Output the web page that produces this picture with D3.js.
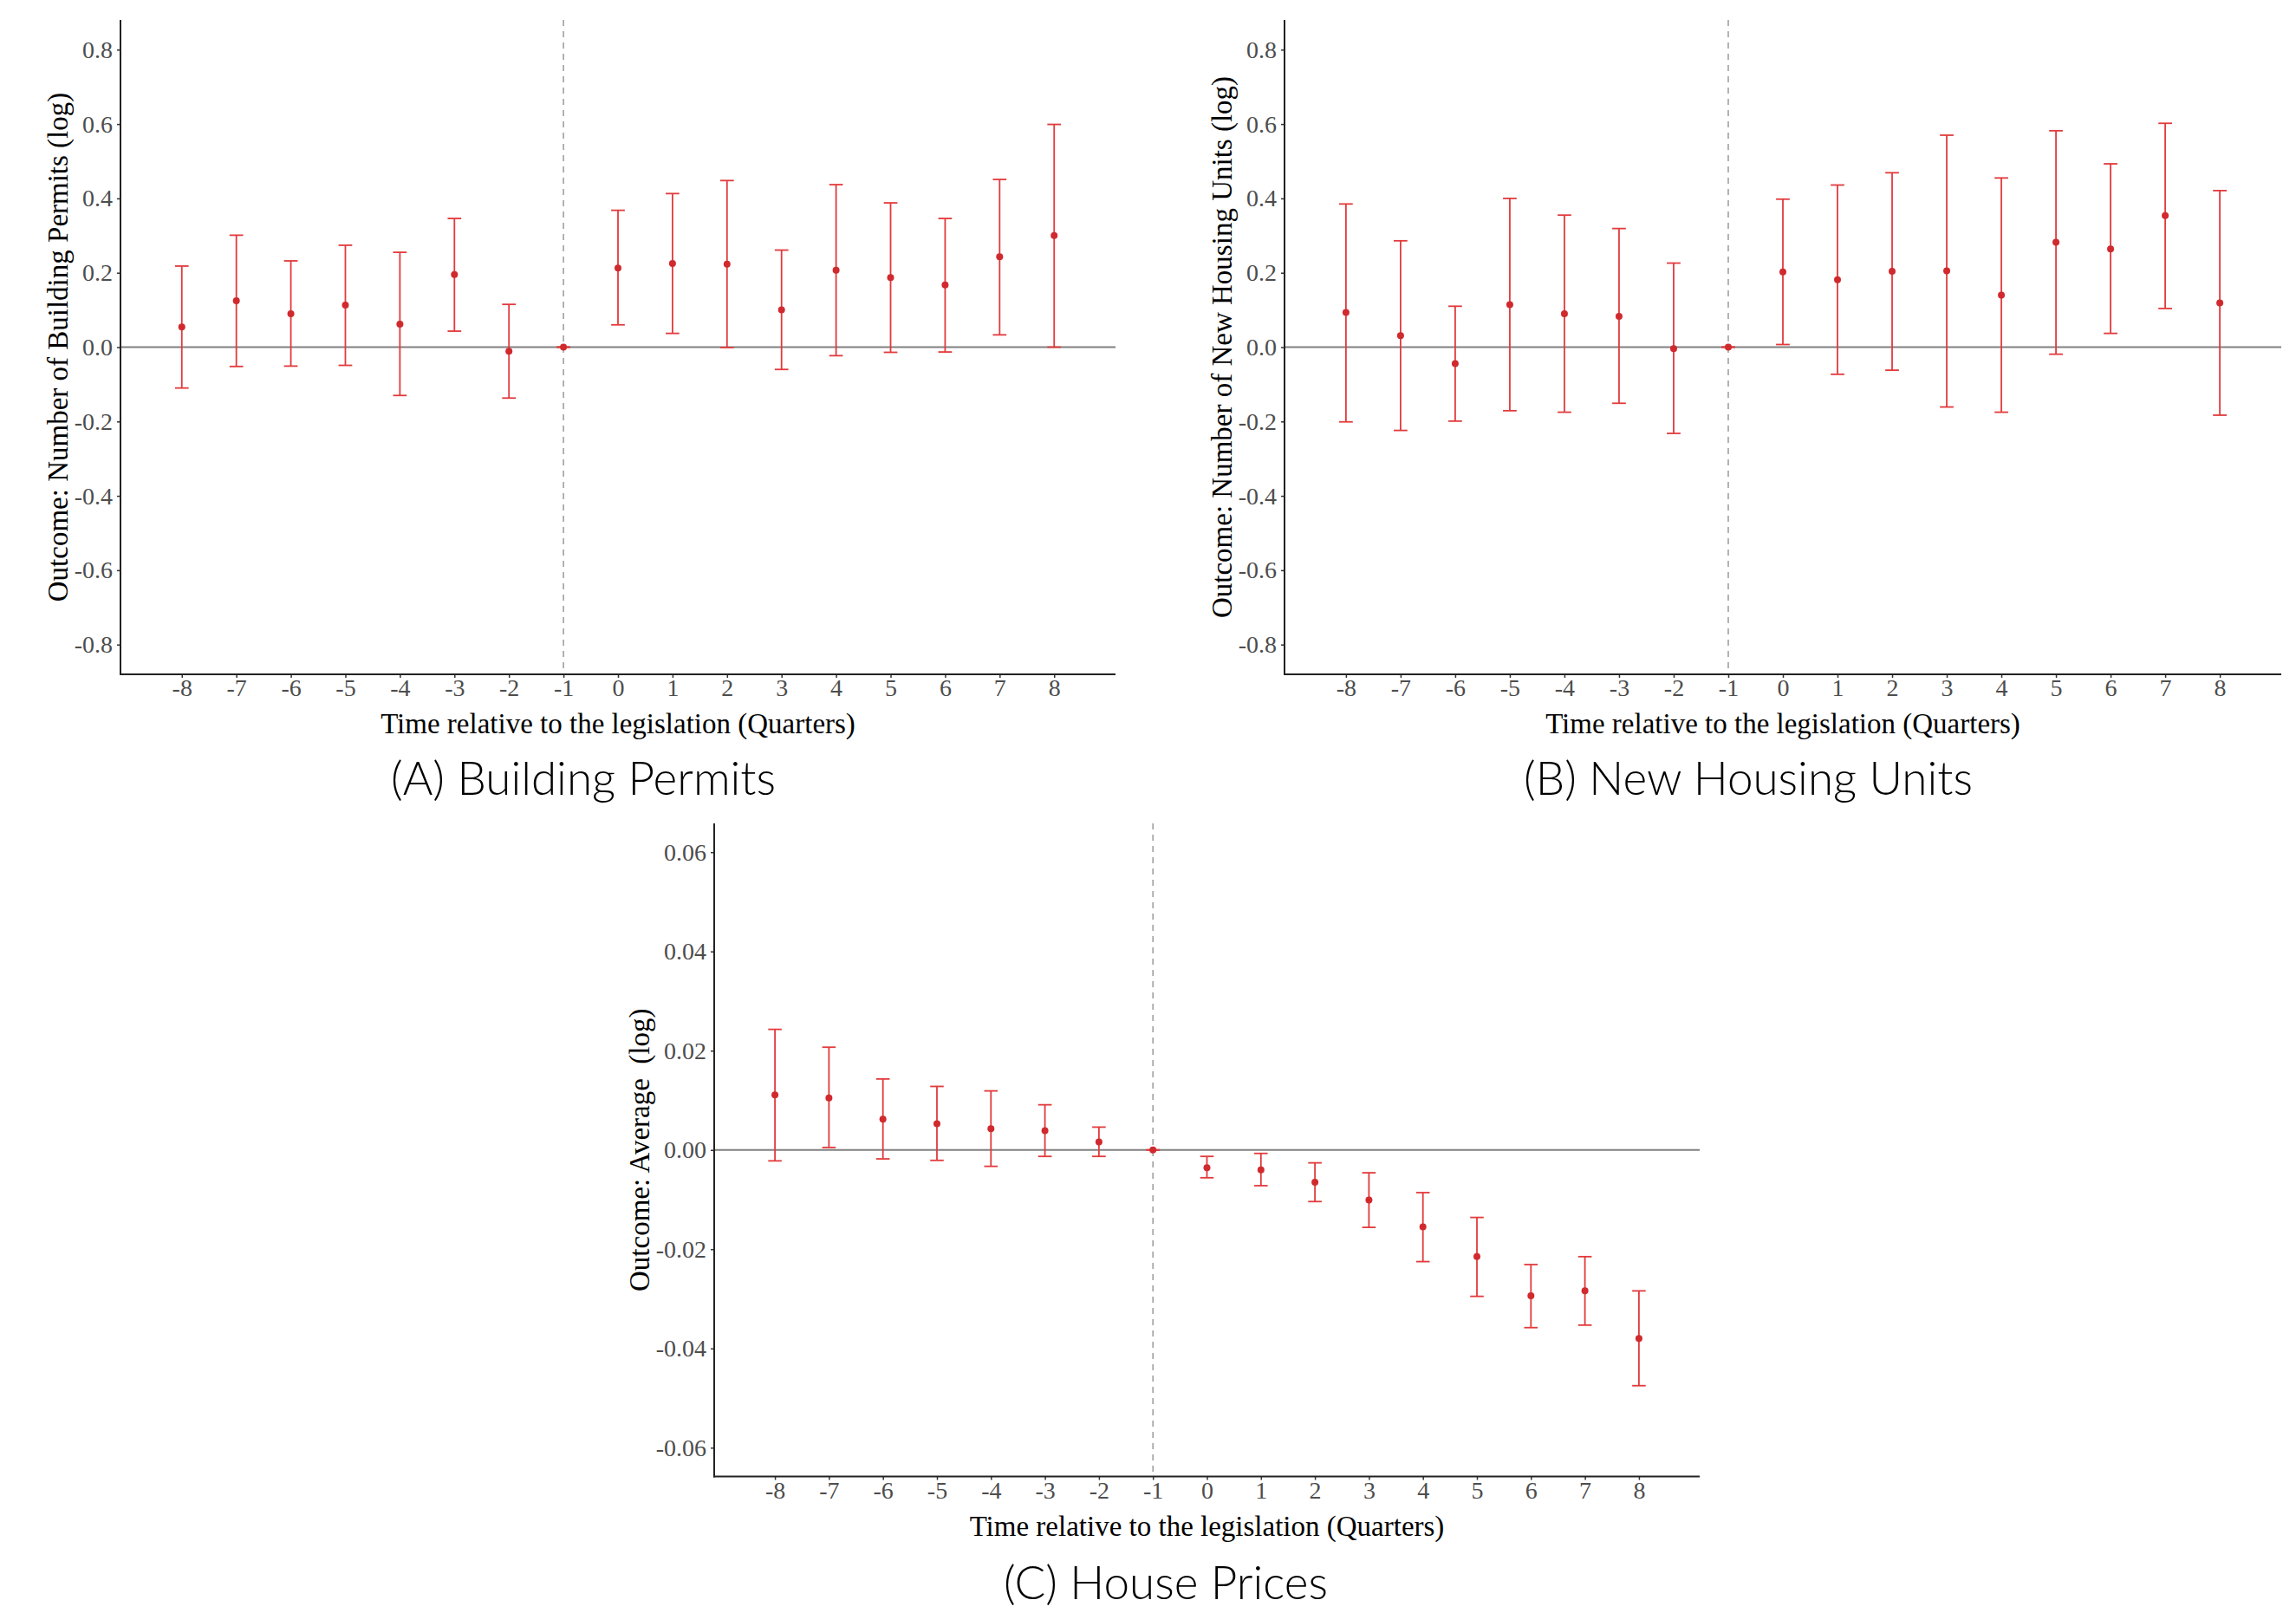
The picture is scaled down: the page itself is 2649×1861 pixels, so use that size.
<!DOCTYPE html>
<html>
<head>
<meta charset="utf-8">
<script src="https://cdn.jsdelivr.net/npm/d3@7"></script>
<style>
  html, body { margin: 0; padding: 0; background: #fff; }
  svg { display: block; }
  text { white-space: pre; }
</style>
</head>
<body>
<script>
// ---------- data ----------
const quarters = [-8, -7, -6, -5, -4, -3, -2, -1, 0, 1, 2, 3, 4, 5, 6, 7, 8];

const permitsEst = [0.054, 0.125, 0.090, 0.113, 0.062, 0.195, -0.011, 0, 0.213, 0.225, 0.223, 0.100, 0.207, 0.187, 0.167, 0.243, 0.300];
const permitsLo  = [-0.110, -0.052, -0.051, -0.049, -0.130, 0.043, -0.137, 0, 0.060, 0.037, -0.001, -0.060, -0.023, -0.014, -0.013, 0.033, 0.000];
const permitsHi  = [0.218, 0.301, 0.232, 0.274, 0.255, 0.346, 0.115, 0, 0.368, 0.413, 0.448, 0.261, 0.437, 0.388, 0.346, 0.451, 0.599];

const unitsEst = [0.093, 0.031, -0.044, 0.114, 0.090, 0.083, -0.004, 0, 0.202, 0.181, 0.204, 0.205, 0.140, 0.282, 0.264, 0.354, 0.119];
const unitsLo  = [-0.201, -0.224, -0.199, -0.171, -0.175, -0.151, -0.232, 0, 0.007, -0.073, -0.062, -0.161, -0.175, -0.019, 0.037, 0.104, -0.183];
const unitsHi  = [0.385, 0.286, 0.110, 0.400, 0.355, 0.319, 0.226, 0, 0.398, 0.436, 0.469, 0.570, 0.455, 0.582, 0.493, 0.602, 0.421];

const pricesEst = [0.0111, 0.0105, 0.0062, 0.0053, 0.0043, 0.0039, 0.0016, 0, -0.0036, -0.0040, -0.0065, -0.0101, -0.0155, -0.0215, -0.0294, -0.0284, -0.0380];
const pricesLo  = [-0.0022, 0.0005, -0.0018, -0.0021, -0.0033, -0.0013, -0.0013, 0, -0.0056, -0.0072, -0.0104, -0.0156, -0.0225, -0.0295, -0.0358, -0.0353, -0.0475];
const pricesHi  = [0.0243, 0.0207, 0.0143, 0.0128, 0.0119, 0.0091, 0.0046, 0, -0.0013, -0.0007, -0.0026, -0.0046, -0.0086, -0.0136, -0.0231, -0.0215, -0.0284];

const ticksAB = [-0.8, -0.6, -0.4, -0.2, 0.0, 0.2, 0.4, 0.6, 0.8];
const tickLabelsAB = ["-0.8", "-0.6", "-0.4", "-0.2", "0.0", "0.2", "0.4", "0.6", "0.8"];
const ticksC = [-0.06, -0.04, -0.02, 0.00, 0.02, 0.04, 0.06];
const tickLabelsC = ["-0.06", "-0.04", "-0.02", "0.00", "0.02", "0.04", "0.06"];

const xTitle = "Time relative to the legislation (Quarters)";
const yTitles = ["Outcome: Number of Building Permits (log)", "Outcome: Number of New Housing Units (log)", "Outcome: Average  (log)"];
const panelTitles = ["(A) Building Permits", "(B) New Housing Units", "(C) House Prices"];

// ---------- drawing ----------
const W = 2649, H = 1861;
const svg = d3.select("body").append("svg").attr("width", W).attr("height", H);

const barColor = "#e23a3c";
const pointColor = "#d02a2e";
const serif = "'Liberation Serif', 'Times New Roman', serif";

function drawPanel(p) {
  const x = d3.scaleLinear().domain([-9.125, 9.125]).range([p.left, p.right]);
  const y = d3.scaleLinear().domain(p.yDomain).range([p.bottom, p.top]);
  const g = svg.append("g");

  // zero line
  g.append("line")
    .attr("x1", p.left).attr("x2", p.right)
    .attr("y1", y(0)).attr("y2", y(0))
    .attr("stroke", "#808080").attr("stroke-width", 2);

  // dashed vertical line at -1
  g.append("line")
    .attr("x1", x(-1)).attr("x2", x(-1))
    .attr("y1", p.top).attr("y2", p.bottom)
    .attr("stroke", "#9a9a9a").attr("stroke-width", 1.5)
    .attr("stroke-dasharray", "7,6");

  const data = quarters.map((q, i) => ({ q, est: p.est[i], lo: p.lo[i], hi: p.hi[i] }));
  const capHalf = 0.125;

  const eb = g.append("g").attr("stroke", barColor).attr("stroke-width", 1.8).attr("fill", "none");
  eb.selectAll("line.v").data(data).join("line").attr("class", "v")
    .attr("x1", d => x(d.q)).attr("x2", d => x(d.q))
    .attr("y1", d => y(d.lo)).attr("y2", d => y(d.hi));
  eb.selectAll("line.t").data(data).join("line").attr("class", "t")
    .attr("x1", d => x(d.q - capHalf)).attr("x2", d => x(d.q + capHalf))
    .attr("y1", d => y(d.hi)).attr("y2", d => y(d.hi));
  eb.selectAll("line.b").data(data).join("line").attr("class", "b")
    .attr("x1", d => x(d.q - capHalf)).attr("x2", d => x(d.q + capHalf))
    .attr("y1", d => y(d.lo)).attr("y2", d => y(d.lo));

  g.selectAll("circle").data(data).join("circle")
    .attr("cx", d => x(d.q)).attr("cy", d => y(d.est))
    .attr("r", 4).attr("fill", pointColor);

  // axes
  const yAxis = d3.axisLeft(y).tickValues(p.ticks)
    .tickFormat((d, i) => p.tickLabels[i]).tickSize(4).tickPadding(5);
  const ya = g.append("g").attr("transform", `translate(${p.left},0)`).call(yAxis);
  ya.select(".domain").remove();

  const xAxis = d3.axisBottom(x).tickValues(quarters)
    .tickFormat(d => String(d)).tickSize(4).tickPadding(5);
  const xa = g.append("g").attr("transform", `translate(0,${p.bottom})`).call(xAxis);
  xa.select(".domain").remove();

  [ya, xa].forEach(a => {
    a.selectAll(".tick line").attr("stroke", "#333").attr("stroke-width", 1.5);
    a.selectAll(".tick text").attr("fill", "#4d4d4d")
      .style("font-family", serif).style("font-size", "28px");
  });
  xa.selectAll(".tick text").attr("dy", "0.58em");

  // axis lines
  g.append("line").attr("x1", p.left).attr("x2", p.left).attr("y1", p.top).attr("y2", p.bottom + 1)
    .attr("stroke", "#222").attr("stroke-width", 2);
  g.append("line").attr("x1", p.left - 1).attr("x2", p.right).attr("y1", p.bottom).attr("y2", p.bottom)
    .attr("stroke", "#222").attr("stroke-width", 2);

  // axis titles
  g.append("text")
    .attr("x", (p.left + p.right) / 2).attr("y", p.bottom + 68)
    .attr("text-anchor", "middle")
    .style("font-family", serif).style("font-size", "33px").attr("fill", "#000")
    .text(xTitle);
  g.append("text")
    .attr("transform", `translate(${p.yTitleX},${(p.top + p.bottom) / 2}) rotate(-90)`)
    .attr("text-anchor", "middle")
    .style("font-family", serif).style("font-size", "33px").attr("fill", "#000")
    .text(p.yTitle);

  // panel title
  svg.append("text")
    .attr("x", p.titleX).attr("y", p.titleY)
    .attr("text-anchor", "middle")
    .style("font-family", "Lato, 'Open Sans', sans-serif")
    .style("font-weight", 300).style("font-size", "53px").attr("fill", "#000")
    .text(p.title);
}

drawPanel({
  left: 139, right: 1287, top: 23, bottom: 778, yDomain: [-0.88, 0.88],
  ticks: ticksAB, tickLabels: tickLabelsAB,
  est: permitsEst, lo: permitsLo, hi: permitsHi,
  yTitle: yTitles[0], yTitleX: 78,
  title: panelTitles[0], titleX: 673, titleY: 917
});

drawPanel({
  left: 1482, right: 2632, top: 23, bottom: 778, yDomain: [-0.88, 0.88],
  ticks: ticksAB, tickLabels: tickLabelsAB,
  est: unitsEst, lo: unitsLo, hi: unitsHi,
  yTitle: yTitles[1], yTitleX: 1421,
  title: panelTitles[1], titleX: 2017, titleY: 917
});

drawPanel({
  left: 824, right: 1961, top: 950, bottom: 1703.5, yDomain: [-0.0658, 0.0658],
  ticks: ticksC, tickLabels: tickLabelsC,
  est: pricesEst, lo: pricesLo, hi: pricesHi,
  yTitle: yTitles[2], yTitleX: 749,
  title: panelTitles[2], titleX: 1345, titleY: 1845
});
</script>
</body>
</html>
